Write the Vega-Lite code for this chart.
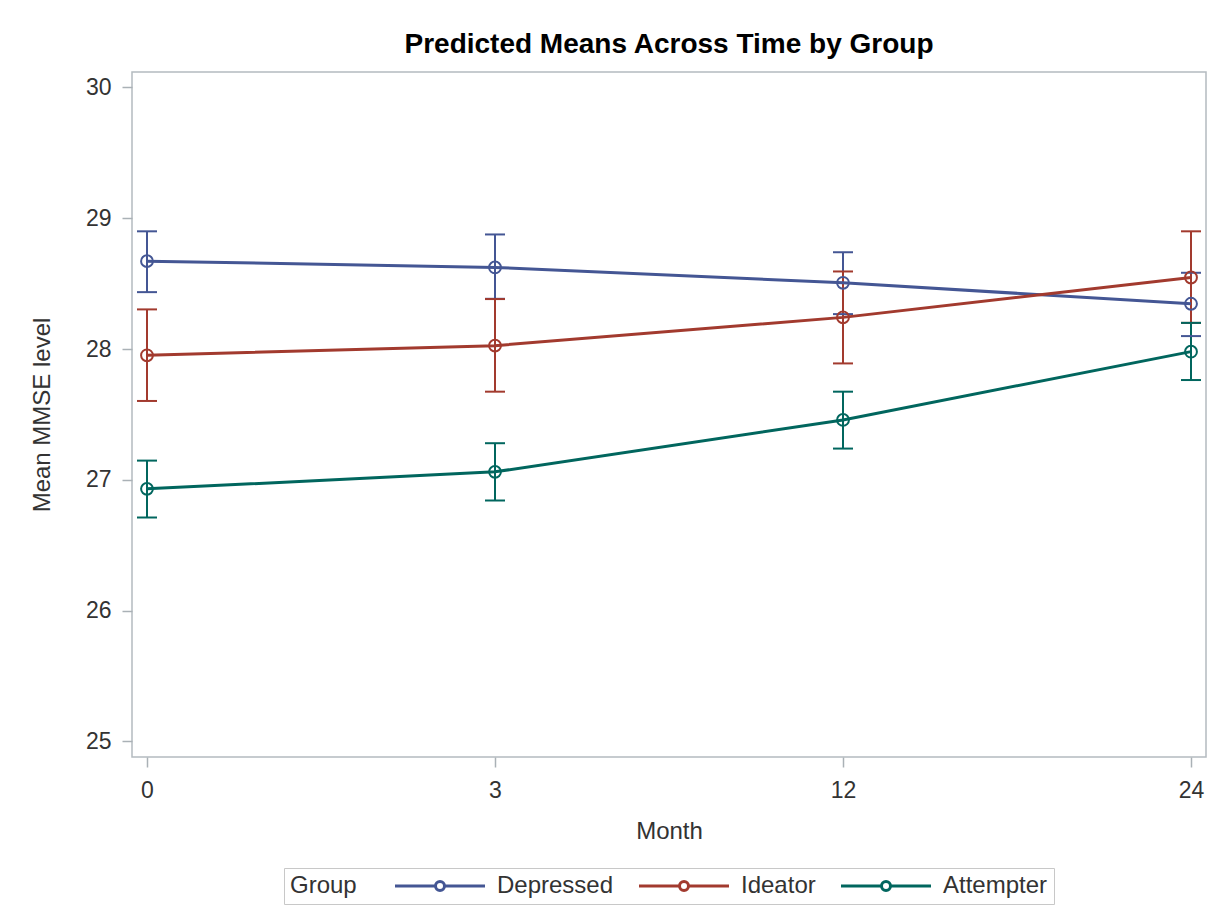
{
  "$schema": "https://vega.github.io/schema/vega-lite/v6.json",
  "width": 1074,
  "height": 685,
  "autosize": {"type": "none"},
  "padding": {"left": 132, "top": 72, "right": 22, "bottom": 164},
  "background": "white",
  "title": {
    "text": "Predicted Means Across Time by Group",
    "font": "Liberation Sans",
    "fontSize": 28,
    "fontWeight": "bold",
    "color": "#000000",
    "anchor": "middle",
    "offset": 13
  },
  "data": {
    "values": [
      {"Group": "Depressed", "Month": 0, "Mean": 28.672, "Lower": 28.435, "Upper": 28.900},
      {"Group": "Depressed", "Month": 3, "Mean": 28.624, "Lower": 28.384, "Upper": 28.876},
      {"Group": "Depressed", "Month": 12, "Mean": 28.506, "Lower": 28.267, "Upper": 28.740},
      {"Group": "Depressed", "Month": 24, "Mean": 28.346, "Lower": 28.099, "Upper": 28.583},
      {"Group": "Ideator", "Month": 0, "Mean": 27.952, "Lower": 27.603, "Upper": 28.303},
      {"Group": "Ideator", "Month": 3, "Mean": 28.026, "Lower": 27.674, "Upper": 28.382},
      {"Group": "Ideator", "Month": 12, "Mean": 28.242, "Lower": 27.890, "Upper": 28.593},
      {"Group": "Ideator", "Month": 24, "Mean": 28.547, "Lower": 28.200, "Upper": 28.900},
      {"Group": "Attempter", "Month": 0, "Mean": 26.931, "Lower": 26.712, "Upper": 27.147},
      {"Group": "Attempter", "Month": 3, "Mean": 27.061, "Lower": 26.842, "Upper": 27.280},
      {"Group": "Attempter", "Month": 12, "Mean": 27.458, "Lower": 27.239, "Upper": 27.674},
      {"Group": "Attempter", "Month": 24, "Mean": 27.980, "Lower": 27.763, "Upper": 28.200}
    ]
  },
  "encoding": {
    "x": {
      "field": "Month",
      "type": "ordinal",
      "sort": [0, 3, 12, 24],
      "scale": {"type": "point", "padding": 0.0431},
      "axis": {"title": "Month", "labelAngle": 0}
    },
    "color": {
      "field": "Group",
      "type": "nominal",
      "sort": ["Depressed", "Ideator", "Attempter"],
      "scale": {"domain": ["Depressed", "Ideator", "Attempter"], "range": ["#445694", "#A23A2E", "#01665E"]},
      "legend": {
        "title": "Group",
        "orient": "bottom",
        "direction": "horizontal",
        "titleOrient": "left",
        "symbolType": "M-9,0H-0.9M0.9,0H9M-0.9,0A0.9,0.9 0 1,0 0.9,0A0.9,0.9 0 1,0 -0.9,0",
        "symbolSize": 100,
        "symbolOffset": 40,
        "symbolStrokeWidth": 3,
        "symbolOpacity": 1,
        "symbolFillColor": "transparent",
        "labelOffset": 45,
        "columnPadding": 18,
        "titlePadding": 31,
        "padding": 6,
        "strokeColor": "#c8c8c8",
        "offset": 25
      }
    }
  },
  "layer": [
    {
      "mark": {"type": "rule", "strokeWidth": 2},
      "encoding": {
        "y": {"field": "Lower", "type": "quantitative"},
        "y2": {"field": "Upper"}
      }
    },
    {
      "mark": {"type": "rule", "strokeWidth": 2, "xOffset": -10, "x2Offset": 10},
      "encoding": {
        "x2": {"field": "Month"},
        "y": {"field": "Lower", "type": "quantitative"}
      }
    },
    {
      "mark": {"type": "rule", "strokeWidth": 2, "xOffset": -10, "x2Offset": 10},
      "encoding": {
        "x2": {"field": "Month"},
        "y": {"field": "Upper", "type": "quantitative"}
      }
    },
    {
      "mark": {"type": "line", "strokeWidth": 3},
      "encoding": {
        "y": {
          "field": "Mean",
          "type": "quantitative",
          "scale": {"domain": [24.881, 30.118], "nice": false, "zero": false},
          "axis": {"title": "Mean MMSE level", "values": [25, 26, 27, 28, 29, 30], "format": "d"}
        }
      }
    },
    {
      "mark": {"type": "point", "shape": "circle", "filled": false, "size": 140, "strokeWidth": 2, "opacity": 1},
      "encoding": {
        "y": {"field": "Mean", "type": "quantitative"}
      }
    }
  ],
  "resolve": {"scale": {"y": "shared"}},
  "config": {
    "font": "Liberation Sans",
    "view": {"stroke": "#b4bbc0", "strokeWidth": 1.5},
    "axis": {
      "domain": false,
      "grid": false,
      "ticks": true,
      "tickColor": "#aab1b6",
      "tickWidth": 1.5,
      "tickSize": 10,
      "labelFont": "Liberation Sans",
      "labelFontSize": 23,
      "labelColor": "#333333",
      "labelPadding": 11,
      "titleFont": "Liberation Sans",
      "titleFontSize": 24,
      "titleFontWeight": "normal",
      "titleColor": "#333333"
    },
    "axisY": {"titlePadding": 31},
    "axisX": {"titlePadding": 17, "labelPadding": 12},
    "legend": {
      "labelFont": "Liberation Sans",
      "labelFontSize": 24,
      "labelColor": "#333333",
      "titleFont": "Liberation Sans",
      "titleFontSize": 24,
      "titleFontWeight": "normal",
      "titleColor": "#333333",
      "layout": {"bottom": {"anchor": "middle"}}
    }
  }
}
